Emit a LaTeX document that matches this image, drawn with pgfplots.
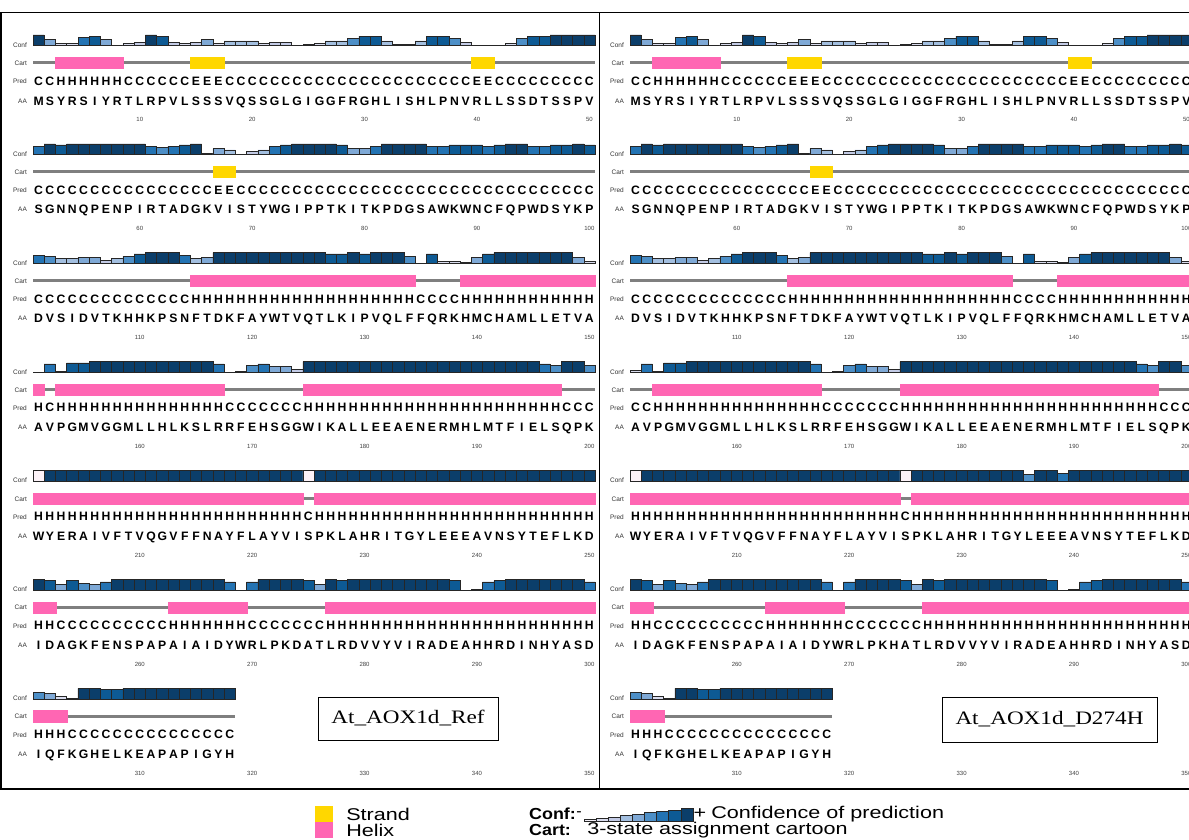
\documentclass[border=0pt]{standalone}
\usepackage{pgfplots}
\pgfplotsset{compat=1.18}
\usepackage{pgfplotstable}
\usepackage{fontspec}
\setmainfont{Liberation Sans}
\newfontfamily\serifA{Liberation Serif}

\definecolor{c1}{HTML}{F3EFF7}
\definecolor{c2}{HTML}{D9DCEE}
\definecolor{c3}{HTML}{C3CBE6}
\definecolor{c4}{HTML}{A3BFE0}
\definecolor{c5}{HTML}{7FA9D6}
\definecolor{c6}{HTML}{4D8FC7}
\definecolor{c7}{HTML}{2373B3}
\definecolor{c8}{HTML}{0D5A94}
\definecolor{c9}{HTML}{0B3E6A}
\definecolor{cW}{HTML}{FDF3F8}
\definecolor{hpink}{HTML}{FF66B3}
\definecolor{syellow}{HTML}{FFD700}
\definecolor{cartgray}{HTML}{7F7F7F}

\pgfplotsset{
  cbar/.style={ybar, bar width=1, bar shift=0pt, draw=black!85, line width=0.5pt},
  lvl/.style 2 args={cbar, fill=#2, y filter/.expression={y==#1 ? y : nan}},
  letters/.style={only marks, mark=*, mark size=0pt, mark options={draw=none,fill=none},
    point meta=explicit symbolic, nodes near coords,
    every node near coord/.append style={anchor=center, font=\bfseries\fontsize{12.2}{13}\selectfont,
      text=black, inner sep=0pt, text height=8.8pt, text depth=0pt}},
  cartbox/.style={only marks, mark=square*, mark size=5.7pt, color=#1,
    mark options={solid, draw=#1, fill=#1, line width=0.1pt}},
}
\tikzset{rowlab/.style={anchor=east, font=\fontsize{6.5}{7}\selectfont, text=black!80, inner sep=0pt},
  legtext/.style={anchor=west, font=\fontsize{17}{18}\selectfont, inner sep=0pt, xscale=1.27}}

% columns: p = position in row, c = confidence (10 = empty full box), s = 0 coil / 1 helix / 2 strand, pr = prediction, aa = residue
\pgfplotstableread{
p c s pr aa
1 9 0 C M
2 5 0 C S
3 2 1 H Y
4 2 1 H R
5 7 1 H S
6 8 1 H I
7 5 1 H Y
8 0 1 H R
9 2 0 C T
10 3 0 C L
11 9 0 C R
12 8 0 C P
13 3 0 C V
14 2 0 C L
15 3 2 E S
16 5 2 E S
17 2 2 E S
18 4 0 C V
19 4 0 C Q
20 4 0 C S
21 2 0 C S
22 3 0 C G
23 3 0 C L
24 0 0 C G
25 1 0 C I
26 2 0 C G
27 4 0 C G
28 4 0 C F
29 6 0 C R
30 8 0 C G
31 8 0 C H
32 4 0 C L
33 1 0 C I
34 1 0 C S
35 4 0 C H
36 8 0 C L
37 8 0 C P
38 6 0 C N
39 3 0 C V
40 0 2 E R
41 0 2 E L
42 0 0 C L
43 2 0 C S
44 6 0 C S
45 8 0 C D
46 8 0 C T
47 9 0 C S
48 9 0 C S
49 9 0 C P
50 9 0 C V
}\rowA

\pgfplotstableread{
p c s pr aa
1 7 0 C S
2 9 0 C G
3 8 0 C N
4 9 0 C N
5 9 0 C Q
6 9 0 C P
7 9 0 C E
8 9 0 C N
9 9 0 C P
10 9 0 C I
11 7 0 C R
12 6 0 C T
13 7 0 C A
14 8 0 C D
15 9 0 C G
16 1 0 C K
17 5 2 E V
18 4 2 E I
19 0 0 C S
20 3 0 C T
21 4 0 C Y
22 7 0 C W
23 8 0 C G
24 9 0 C I
25 9 0 C P
26 9 0 C P
27 9 0 C T
28 8 0 C K
29 5 0 C I
30 5 0 C T
31 7 0 C K
32 9 0 C P
33 9 0 C D
34 9 0 C G
35 9 0 C S
36 7 0 C A
37 7 0 C W
38 8 0 C K
39 8 0 C W
40 8 0 C N
41 7 0 C C
42 8 0 C F
43 9 0 C Q
44 9 0 C P
45 7 0 C W
46 7 0 C D
47 8 0 C S
48 8 0 C Y
49 9 0 C K
50 8 0 C P
}\rowB

\pgfplotstableread{
p c s pr aa
1 7 0 C D
2 6 0 C V
3 4 0 C S
4 4 0 C I
5 5 0 C D
6 5 0 C V
7 3 0 C T
8 4 0 C K
9 6 0 C H
10 8 0 C H
11 9 0 C K
12 9 0 C P
13 9 0 C S
14 7 0 C N
15 4 1 H F
16 5 1 H T
17 9 1 H D
18 9 1 H K
19 9 1 H F
20 9 1 H A
21 9 1 H Y
22 9 1 H W
23 9 1 H T
24 9 1 H V
25 9 1 H Q
26 9 1 H T
27 8 1 H L
28 8 1 H K
29 9 1 H I
30 8 1 H P
31 9 1 H V
32 9 1 H Q
33 9 1 H L
34 6 1 H F
35 0 0 C F
36 8 0 C Q
37 2 0 C R
38 2 0 C K
39 1 1 H H
40 5 1 H M
41 8 1 H C
42 9 1 H H
43 9 1 H A
44 9 1 H M
45 9 1 H L
46 9 1 H L
47 9 1 H E
48 9 1 H T
49 5 1 H V
50 2 1 H A
}\rowC

\pgfplotstableread{
p c s pr aa
1 0 1 H A
2 7 0 C V
3 1 1 H P
4 8 1 H G
5 8 1 H M
6 9 1 H V
7 9 1 H G
8 9 1 H G
9 9 1 H M
10 9 1 H L
11 9 1 H L
12 9 1 H H
13 9 1 H L
14 9 1 H K
15 9 1 H S
16 9 1 H L
17 7 1 H R
18 0 0 C R
19 1 0 C F
20 6 0 C E
21 7 0 C H
22 5 0 C S
23 5 0 C G
24 3 0 C G
25 9 1 H W
26 9 1 H I
27 9 1 H K
28 9 1 H A
29 9 1 H L
30 9 1 H L
31 9 1 H E
32 9 1 H E
33 9 1 H A
34 9 1 H E
35 9 1 H N
36 9 1 H E
37 9 1 H R
38 9 1 H M
39 9 1 H H
40 9 1 H L
41 9 1 H M
42 9 1 H T
43 9 1 H F
44 9 1 H I
45 9 1 H E
46 7 1 H L
47 6 1 H S
48 9 0 C Q
49 9 0 C P
50 6 0 C K
}\rowDa

\pgfplotstableread{
p c s pr aa
1 2 0 C A
2 7 0 C V
3 1 1 H P
4 8 1 H G
5 8 1 H M
6 9 1 H V
7 9 1 H G
8 9 1 H G
9 9 1 H M
10 9 1 H L
11 9 1 H L
12 9 1 H H
13 9 1 H L
14 9 1 H K
15 9 1 H S
16 9 1 H L
17 7 1 H R
18 0 0 C R
19 1 0 C F
20 6 0 C E
21 7 0 C H
22 5 0 C S
23 5 0 C G
24 3 0 C G
25 9 1 H W
26 9 1 H I
27 9 1 H K
28 9 1 H A
29 9 1 H L
30 9 1 H L
31 9 1 H E
32 9 1 H E
33 9 1 H A
34 9 1 H E
35 9 1 H N
36 9 1 H E
37 9 1 H R
38 9 1 H M
39 9 1 H H
40 9 1 H L
41 9 1 H M
42 9 1 H T
43 9 1 H F
44 9 1 H I
45 9 1 H E
46 7 1 H L
47 6 1 H S
48 9 0 C Q
49 9 0 C P
50 6 0 C K
}\rowDb

\pgfplotstableread{
p c s pr aa
1 10 1 H W
2 9 1 H Y
3 9 1 H E
4 9 1 H R
5 9 1 H A
6 9 1 H I
7 9 1 H V
8 9 1 H F
9 9 1 H T
10 9 1 H V
11 9 1 H Q
12 9 1 H G
13 9 1 H V
14 9 1 H F
15 9 1 H F
16 9 1 H N
17 9 1 H A
18 9 1 H Y
19 9 1 H F
20 9 1 H L
21 9 1 H A
22 9 1 H Y
23 9 1 H V
24 9 1 H I
25 10 0 C S
26 9 1 H P
27 9 1 H K
28 9 1 H L
29 9 1 H A
30 9 1 H H
31 9 1 H R
32 9 1 H I
33 9 1 H T
34 9 1 H G
35 9 1 H Y
36 9 1 H L
37 9 1 H E
38 9 1 H E
39 9 1 H E
40 9 1 H A
41 9 1 H V
42 9 1 H N
43 9 1 H S
44 9 1 H Y
45 9 1 H T
46 9 1 H E
47 9 1 H F
48 9 1 H L
49 9 1 H K
50 9 1 H D
}\rowEa

\pgfplotstableread{
p c s pr aa
1 10 1 H W
2 9 1 H Y
3 9 1 H E
4 9 1 H R
5 9 1 H A
6 9 1 H I
7 9 1 H V
8 9 1 H F
9 9 1 H T
10 9 1 H V
11 9 1 H Q
12 9 1 H G
13 9 1 H V
14 9 1 H F
15 9 1 H F
16 9 1 H N
17 9 1 H A
18 9 1 H Y
19 9 1 H F
20 9 1 H L
21 9 1 H A
22 9 1 H Y
23 9 1 H V
24 9 1 H I
25 10 0 C S
26 9 1 H P
27 9 1 H K
28 9 1 H L
29 9 1 H A
30 9 1 H H
31 9 1 H R
32 9 1 H I
33 9 1 H T
34 9 1 H G
35 9 1 H Y
36 6 1 H L
37 9 1 H E
38 9 1 H E
39 7 1 H E
40 9 1 H A
41 9 1 H V
42 9 1 H N
43 9 1 H S
44 9 1 H Y
45 9 1 H T
46 9 1 H E
47 9 1 H F
48 9 1 H L
49 9 1 H K
50 9 1 H D
}\rowEb

\pgfplotstableread{
p c s pr aa
1 9 1 H I
2 8 1 H D
3 5 0 C A
4 8 0 C G
5 6 0 C K
6 5 0 C F
7 7 0 C E
8 9 0 C N
9 9 0 C S
10 9 0 C P
11 9 0 C A
12 9 0 C P
13 9 1 H A
14 9 1 H I
15 9 1 H A
16 9 1 H I
17 9 1 H D
18 7 1 H Y
19 0 1 H W
20 7 0 C R
21 9 0 C L
22 9 0 C P
23 9 0 C K
24 9 0 C D
25 8 0 C A
26 5 0 C T
27 9 1 H L
28 8 1 H R
29 9 1 H D
30 9 1 H V
31 9 1 H V
32 9 1 H Y
33 9 1 H V
34 9 1 H I
35 9 1 H R
36 9 1 H A
37 9 1 H D
38 8 1 H E
39 0 1 H A
40 1 1 H H
41 7 1 H H
42 8 1 H R
43 9 1 H D
44 9 1 H I
45 9 1 H N
46 9 1 H H
47 9 1 H Y
48 9 1 H A
49 9 1 H S
50 7 1 H D
}\rowFa

\pgfplotstableread{
p c s pr aa
1 9 1 H I
2 8 1 H D
3 5 0 C A
4 8 0 C G
5 6 0 C K
6 5 0 C F
7 7 0 C E
8 9 0 C N
9 9 0 C S
10 9 0 C P
11 9 0 C A
12 9 0 C P
13 9 1 H A
14 9 1 H I
15 9 1 H A
16 9 1 H I
17 9 1 H D
18 7 1 H Y
19 0 1 H W
20 7 0 C R
21 9 0 C L
22 9 0 C P
23 9 0 C K
24 9 0 C H
25 8 0 C A
26 5 0 C T
27 9 1 H L
28 8 1 H R
29 9 1 H D
30 9 1 H V
31 9 1 H V
32 9 1 H Y
33 9 1 H V
34 9 1 H I
35 9 1 H R
36 9 1 H A
37 9 1 H D
38 8 1 H E
39 0 1 H A
40 1 1 H H
41 7 1 H H
42 8 1 H R
43 9 1 H D
44 9 1 H I
45 9 1 H N
46 9 1 H H
47 9 1 H Y
48 9 1 H A
49 9 1 H S
50 7 1 H D
}\rowFb

\pgfplotstableread{
p c s pr aa
1 6 1 H I
2 5 1 H Q
3 2 1 H F
4 1 0 C K
5 9 0 C G
6 9 0 C H
7 8 0 C E
8 8 0 C L
9 9 0 C K
10 9 0 C E
11 9 0 C A
12 9 0 C P
13 9 0 C A
14 9 0 C P
15 9 0 C I
16 9 0 C G
17 9 0 C Y
18 9 0 C H
}\rowG

\newcommand\confbars[1]{%
 \addplot[lvl={0}{c1}, line width=0.9pt] table[x=p,y=c]{#1};
 \addplot[lvl={1}{c1}] table[x=p,y=c]{#1};
 \addplot[lvl={2}{c2}] table[x=p,y=c]{#1};
 \addplot[lvl={3}{c3}] table[x=p,y=c]{#1};
 \addplot[lvl={4}{c4}] table[x=p,y=c]{#1};
 \addplot[lvl={5}{c5}] table[x=p,y=c]{#1};
 \addplot[lvl={6}{c6}] table[x=p,y=c]{#1};
 \addplot[lvl={7}{c7}] table[x=p,y=c]{#1};
 \addplot[lvl={8}{c8}] table[x=p,y=c]{#1};
 \addplot[lvl={9}{c9}] table[x=p,y=c]{#1};
 \addplot[cbar, fill=cW, y filter/.expression={y==10 ? 9 : nan}] table[x=p,y=c]{#1};
}

% #1 table, #2 row index, #3 x of left edge (pt), #4 number of residues
\newcommand\drawrow[4]{%
\pgfmathsetmacro\ysw{-115.85-108.9*#2}%
\begin{axis}[at={(#3pt,\ysw pt)}, anchor=south west,
  x=11.24pt, y=1.2pt, xmin=0.5, xmax=50.5, ymin=-58.5, ymax=10,
  clip=false, axis line style={draw=none}, major tick length=0pt,
  ytick=\empty, xtick={10,20,30,40,50},
  xticklabel={\pgfmathtruncatemacro\tmpt{\tick+50*#2}\tmpt},
  xticklabel style={font=\fontsize{6}{6}\selectfont, text=black!75, inner sep=1.5pt}]
\confbars{#1}
\addplot[draw=cartgray, line width=3.3pt] coordinates {(0.5,-14.3) (#4.5,-14.3)};
\addplot[cartbox=hpink, y filter/.expression={y==1 ? -14.3 : nan}] table[x=p,y=s]{#1};
\addplot[cartbox=syellow, y filter/.expression={y==2 ? -14.3 : nan}] table[x=p,y=s]{#1};
\addplot[letters] table[x=p, y expr=-29.3, meta=pr]{#1};
\addplot[letters] table[x=p, y expr=-45.8, meta=aa]{#1};
\node[rowlab] at (axis cs:-0.03,0.5) {Conf};
\node[rowlab] at (axis cs:-0.03,-14.6) {Cart};
\node[rowlab] at (axis cs:-0.03,-30) {Pred};
\node[rowlab] at (axis cs:-0.03,-46) {AA};
\end{axis}}

\begin{document}
\begin{tikzpicture}
\useasboundingbox (0pt,0pt) rectangle (1189pt,-839pt);
\fill[white] (0pt,0pt) rectangle (1189pt,-839pt);
% panel frames
\draw[line width=1.6pt] (1pt,-12.5pt) rectangle (599.5pt,-789pt);
\draw[line width=1.6pt] (599.5pt,-12.5pt) rectangle (1200pt,-789pt);

% left panel
\drawrow{\rowA}{0}{33}{50}
\drawrow{\rowB}{1}{33}{50}
\drawrow{\rowC}{2}{33}{50}
\drawrow{\rowDa}{3}{33}{50}
\drawrow{\rowEa}{4}{33}{50}
\drawrow{\rowFa}{5}{33}{50}
\drawrow{\rowG}{6}{33}{18}
% right panel
\drawrow{\rowA}{0}{630}{50}
\drawrow{\rowB}{1}{630}{50}
\drawrow{\rowC}{2}{630}{50}
\drawrow{\rowDb}{3}{630}{50}
\drawrow{\rowEb}{4}{630}{50}
\drawrow{\rowFb}{5}{630}{50}
\drawrow{\rowG}{6}{630}{18}

% name boxes
\draw[line width=0.8pt] (318pt,-697pt) rectangle (498pt,-740pt);
\node[font=\serifA\fontsize{19}{22}\selectfont, xscale=1.22, inner sep=0pt] at (408pt,-718.5pt) {At\_AOX1d\_Ref};
\draw[line width=0.8pt] (942pt,-697pt) rectangle (1157pt,-742pt);
\node[font=\serifA\fontsize{19}{22}\selectfont, xscale=1.22, inner sep=0pt] at (1049.5pt,-719.5pt) {At\_AOX1d\_D274H};

% legend
\fill[syellow] (315pt,-806pt) rectangle (333pt,-821.5pt);
\fill[hpink] (315pt,-822pt) rectangle (333pt,-838pt);
\node[legtext] at (346pt,-814pt) {Strand};
\node[legtext] at (346pt,-830pt) {Helix};
\node[legtext, font=\bfseries\fontsize{16}{18}\selectfont, xscale=0.88] at (529pt,-814pt) {Conf:};
\node[legtext, font=\bfseries\fontsize{16}{18}\selectfont, xscale=0.88] at (529pt,-830pt) {Cart:};
\node[legtext] at (587pt,-830pt) {3-state assignment cartoon};
\node[font=\fontsize{16}{18}\selectfont, inner sep=0pt] at (579pt,-814pt) {-};
\begin{axis}[at={(584pt,-821pt)}, anchor=south west, x=12.1pt, y=1.4pt,
  xmin=0.5, xmax=9.5, ymin=0, ymax=9, hide axis, clip=false]
\addplot[cbar, fill=c1] coordinates {(1,1)};
\addplot[cbar, fill=c2] coordinates {(2,2)};
\addplot[cbar, fill=c3] coordinates {(3,3)};
\addplot[cbar, fill=c4] coordinates {(4,4)};
\addplot[cbar, fill=c5] coordinates {(5,5)};
\addplot[cbar, fill=c6] coordinates {(6,6)};
\addplot[cbar, fill=c7] coordinates {(7,7)};
\addplot[cbar, fill=c8] coordinates {(8,8)};
\addplot[cbar, fill=c9] coordinates {(9,9)};
\end{axis}
\node[font=\fontsize{17}{18}\selectfont, inner sep=0pt, xscale=1.27] at (700pt,-814pt) {+};
\node[legtext] at (711pt,-814pt) {Confidence of prediction};
\end{tikzpicture}
\end{document}
